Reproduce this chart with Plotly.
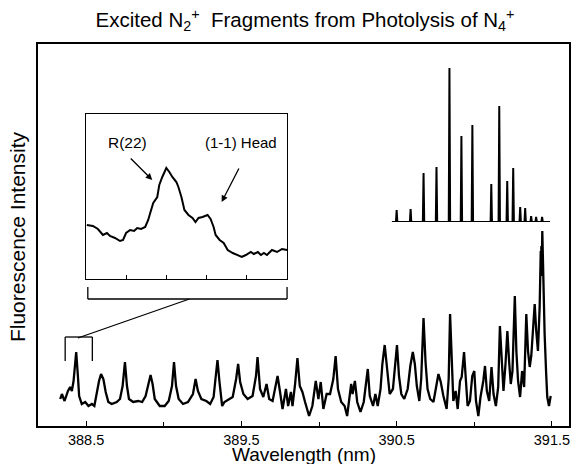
import plotly.graph_objects as go

# ---------------- data ----------------
# main fluorescence spectrum (wavelength in nm, intensity in arbitrary units)
wavelength = [
    388.333, 388.344, 388.361, 388.383, 388.397, 388.408, 388.419, 388.436, 388.447, 388.455,
    388.472, 388.494, 388.515, 388.537, 388.553, 388.569, 388.583, 388.596, 388.611, 388.626,
    388.643, 388.665, 388.697, 388.718, 388.735, 388.750, 388.763, 388.776, 388.803, 388.835,
    388.861, 388.883, 388.904, 388.915, 388.928, 388.942, 388.974, 389.006, 389.032, 389.053,
    389.066, 389.079, 389.096, 389.124, 389.156, 389.167, 389.188, 389.205, 389.220, 389.242,
    389.274, 389.299, 389.321, 389.333, 389.346, 389.359, 389.376, 389.391, 389.419, 389.444,
    389.466, 389.479, 389.492, 389.513, 389.540, 389.572, 389.594, 389.604, 389.620, 389.641,
    389.662, 389.679, 389.701, 389.718, 389.733, 389.748, 389.765, 389.787, 389.801, 389.819,
    389.829, 389.846, 389.861, 389.876, 389.893, 389.910, 389.936, 389.957, 389.979, 389.996,
    390.011, 390.028, 390.032, 390.049, 390.071, 390.092, 390.107, 390.122, 390.143, 390.165,
    390.181, 390.199, 390.207, 390.216, 390.231, 390.246, 390.267, 390.288, 390.306, 390.314,
    390.327, 390.348, 390.363, 390.378, 390.396, 390.408, 390.423, 390.438, 390.455, 390.476,
    390.492, 390.502, 390.515, 390.530, 390.549, 390.571, 390.588, 390.604, 390.617, 390.630,
    390.646, 390.658, 390.673, 390.686, 390.699, 390.716, 390.737, 390.754, 390.769, 390.784,
    390.801, 390.822, 390.835, 390.844, 390.854, 390.865, 390.880, 390.893, 390.908, 390.919,
    390.934, 390.944, 390.957, 390.972, 390.987, 391.000, 391.011, 391.026, 391.040, 391.058,
    391.069, 391.081, 391.096, 391.111, 391.124, 391.139, 391.154, 391.165, 391.175, 391.188,
    391.201, 391.213, 391.224, 391.235, 391.246, 391.261, 391.271, 391.282, 391.295, 391.308,
    391.321, 391.335, 391.346, 391.357, 391.367, 391.378, 391.389, 391.399, 391.410, 391.421,
    391.424, 391.426, 391.428, 391.430, 391.432, 391.435, 391.438, 391.441, 391.444, 391.447,
    391.450, 391.453, 391.463, 391.470, 391.481, 391.492,
]
intensity = [
    27, 32, 25, 35, 39, 35, 45, 74, 50, 30,
    22, 24, 20, 22, 20, 35, 45, 52, 47, 34,
    24, 22, 24, 27, 40, 64, 40, 27, 24, 25,
    24, 30, 45, 51, 42, 27, 20, 20, 25, 40,
    64, 40, 27, 22, 24, 27, 32, 47, 35, 27,
    25, 22, 29, 47, 66, 44, 20, 24, 27, 29,
    47, 62, 44, 32, 27, 30, 50, 69, 37, 29,
    42, 27, 25, 39, 50, 35, 17, 37, 20, 34,
    20, 42, 68, 40, 34, 24, 10, 20, 45, 27,
    44, 17, 20, 32, 32, 47, 70, 37, 24, 20,
    10, 34, 42, 32, 45, 24, 14, 24, 47, 57,
    30, 20, 32, 20, 37, 62, 81, 57, 32, 37,
    64, 81, 50, 32, 27, 37, 60, 74, 62, 40,
    25, 47, 108, 64, 37, 27, 24, 40, 52, 44,
    30, 17, 47, 112, 64, 25, 35, 17, 45, 49,
    74, 45, 20, 25, 50, 55, 25, 10, 29, 45,
    60, 35, 25, 59, 32, 20, 39, 100, 69, 35,
    62, 95, 65, 42, 55, 130, 75, 45, 29, 55,
    39, 112, 75, 59, 70, 99, 122, 95, 75, 119,
    170, 140, 175, 150, 180, 160, 195, 165, 180, 150,
    120, 92, 52, 29, 20, 30,
]

# expanded view of the bracketed region (inset)
inset_wavelength = [
    388.361, 388.367, 388.372, 388.377, 388.381, 388.384, 388.389, 388.394, 388.397, 388.400,
    388.404, 388.408, 388.411, 388.415, 388.419, 388.422, 388.424, 388.427, 388.431, 388.433,
    388.436, 388.438, 388.440, 388.443, 388.446, 388.450, 388.452, 388.455, 388.458, 388.462,
    388.466, 388.469, 388.472, 388.476, 388.481, 388.484, 388.487, 388.489, 388.493, 388.497,
    388.501, 388.506, 388.511, 388.515, 388.519, 388.524, 388.527, 388.531, 388.534, 388.537,
    388.540, 388.545, 388.550, 388.555, 388.560,
]
inset_intensity = [
    54, 53, 50, 44, 46, 43, 41, 38, 39, 46,
    49, 48, 51, 50, 52, 59, 66, 76, 82, 94,
    102, 107, 111, 107, 102, 97, 92, 82, 69, 64,
    61, 57, 61, 62, 64, 60, 52, 44, 39, 36,
    29, 26, 24, 22, 24, 27, 25, 27, 24, 26,
    24, 29, 27, 30, 29,
]
inset_ticks = [388.40, 388.44, 388.48, 388.52]

# simulated band (stick spectrum, arbitrary position units)
stick_position = [5, 19, 32, 45, 58, 70, 81, 100, 108, 116, 122, 129, 134, 140, 145, 151]
stick_height = [12, 13, 49, 55, 154, 86, 97, 38, 116, 41, 54, 15, 14, 6, 5, 5]
stick_span = [0, 159]

main_ticks = [388.5, 389.5, 390.5, 391.5]
tick_labels = ["388.5", "389.5", "390.5", "391.5"]

# ---------------- figure ----------------
FONT = "Liberation Sans, Arial, Helvetica, sans-serif"
fig = go.Figure()

fig.add_trace(go.Scatter(
    x=wavelength, y=intensity, mode="lines",
    line=dict(color="black", width=2.3), xaxis="x", yaxis="y",
    showlegend=False, hoverinfo="skip"))

fig.add_trace(go.Scatter(
    x=inset_wavelength, y=inset_intensity, mode="lines",
    line=dict(color="black", width=2), xaxis="x2", yaxis="y2",
    showlegend=False, hoverinfo="skip"))

sx, sy = [stick_span[0]], [0]
for p, h in zip(stick_position, stick_height):
    sx += [p - 0.7, p, p + 0.7]
    sy += [0, h, 0]
sx.append(stick_span[1]); sy.append(0)
fig.add_trace(go.Scatter(
    x=sx, y=sy, mode="lines",
    line=dict(color="black", width=2), xaxis="x3", yaxis="y3",
    showlegend=False, hoverinfo="skip"))

# geometry helpers (plot area: x 38..571 px, y 44..426 px)
L, R, T, B = 38, 571, 44, 426
def px(x):
    return (x - L) / (R - L)
def py(y):
    return (B - y) / (B - T)

fig.update_layout(
    width=575, height=464,
    margin=dict(l=L, r=575 - R, t=T, b=464 - B),
    paper_bgcolor="white", plot_bgcolor="white",
    font=dict(family=FONT, color="black", size=15),
    title=dict(
        text="Excited N<sub>2</sub><sup>+</sup>  Fragments from Photolysis of N<sub>4</sub><sup>+</sup>",
        x=305 / 575, xanchor="center", y=1 - 20 / 464, yanchor="middle",
        yref="container", xref="container",
        font=dict(size=20.5, family=FONT, color="black")),
    xaxis=dict(
        range=[388.19, 391.61], showgrid=False, zeroline=False,
        showline=True, linecolor="black", linewidth=1.5, mirror=True,
        ticks="inside", ticklen=5, tickwidth=1.2, tickcolor="black",
        tickvals=main_ticks, ticktext=tick_labels,
        tickfont=dict(size=14.5, family=FONT),
        minor=dict(ticks="inside", ticklen=4, tickwidth=1.2, tickcolor="black",
                   dtick=0.5, tick0=388.5, showgrid=False),
        domain=[0, 1], anchor="y"),
    yaxis=dict(
        range=[0, 382], showgrid=False, zeroline=False, showticklabels=False,
        showline=True, linecolor="black", linewidth=1.5, mirror=True,
        ticks="", domain=[0, 1], anchor="x"),
    xaxis2=dict(
        range=[388.36, 388.56], domain=[px(86), px(288)], anchor="y2",
        showgrid=False, zeroline=False, showticklabels=False,
        showline=True, linecolor="black", linewidth=1.3, mirror=True,
        ticks="inside", ticklen=4, tickwidth=1, tickcolor="black",
        tickvals=inset_ticks),
    yaxis2=dict(
        range=[0, 165], domain=[py(279), py(114)], anchor="x2",
        showgrid=False, zeroline=False, showticklabels=False,
        showline=True, linecolor="black", linewidth=1.3, mirror=True, ticks=""),
    xaxis3=dict(
        range=[stick_span[0], stick_span[1]], domain=[px(393), px(552)], anchor="y3",
        visible=False),
    yaxis3=dict(
        range=[0, 162], domain=[py(222), py(60)], anchor="x3", visible=False),
)

shapes = []
line_style = dict(color="black", width=1.3)
# bracket marking the expanded region on the main spectrum (opens downward)
bx0, bx1 = 388.365, 388.54
shapes += [
    dict(type="line", xref="x", yref="y", x0=bx0, x1=bx1, y0=89, y1=89, line=line_style),
    dict(type="line", xref="x", yref="y", x0=bx0, x1=bx0, y0=89, y1=65, line=line_style),
    dict(type="line", xref="x", yref="y", x0=bx1, x1=bx1, y0=89, y1=65, line=line_style),
]
# bracket below the inset (opens upward)
shapes += [
    dict(type="line", xref="paper", yref="paper", x0=px(88), x1=px(288), y0=py(299), y1=py(299), line=line_style),
    dict(type="line", xref="paper", yref="paper", x0=px(88), x1=px(88), y0=py(299), y1=py(287), line=line_style),
    dict(type="line", xref="paper", yref="paper", x0=px(288), x1=px(288), y0=py(299), y1=py(287), line=line_style),
    # connector
    dict(type="line", xref="paper", yref="paper", x0=px(78), x1=px(190), y0=py(338), y1=py(299), line=line_style),
]
fig.update_layout(shapes=shapes)

ann = [
    dict(text="Wavelength (nm)", xref="paper", yref="paper", x=0.5, y=py(454),
         showarrow=False, font=dict(size=19, family=FONT), xanchor="center", yanchor="middle"),
    dict(text="Fluorescence Intensity", xref="paper", yref="paper", x=px(18), y=py(237),
         textangle=-90, showarrow=False, font=dict(size=21, family=FONT),
         xanchor="center", yanchor="middle"),
    dict(text="R(22)", xref="x2", yref="y2", x=388.401, y=137, showarrow=False,
         font=dict(size=15.5, family=FONT)),
    dict(text="(1-1) Head", xref="x2", yref="y2", x=388.514, y=137, showarrow=False,
         font=dict(size=15, family=FONT)),
    dict(text="", xref="x2", yref="y2", x=388.426, y=99, ax=-23, ay=-23,
         showarrow=True, arrowhead=2, arrowsize=1, arrowwidth=1.3, arrowcolor="black"),
    dict(text="", xref="x2", yref="y2", x=388.495, y=77, ax=18, ay=-35,
         showarrow=True, arrowhead=2, arrowsize=1, arrowwidth=1.3, arrowcolor="black"),
]
fig.update_layout(annotations=ann)

fig.write_html("out.html", config={"displayModeBar": False},
               post_script="document.body.style.margin='0';document.body.style.overflow='hidden';")
